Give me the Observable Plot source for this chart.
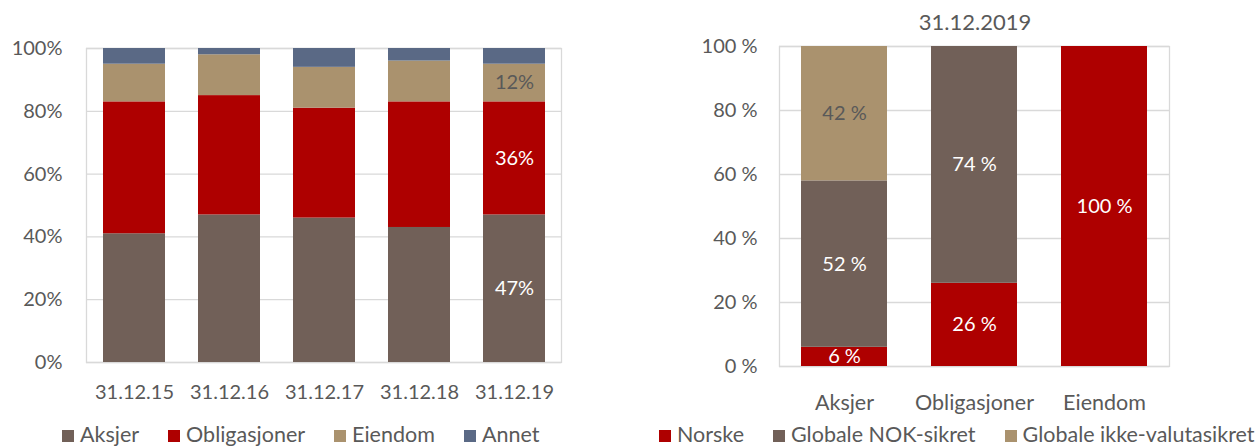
<!DOCTYPE html>
<html>
<head>
<meta charset="utf-8">
<script src="https://cdn.jsdelivr.net/npm/d3@7"></script>
<script src="https://cdn.jsdelivr.net/npm/@observablehq/plot@0.6"></script>
<style>
  html, body { margin: 0; padding: 0; background: #fff; }
  #root { position: relative; width: 1256px; height: 447px; overflow: hidden; font-family: Lato, "Open Sans", sans-serif; color: #595959; }
  .chart { position: absolute; top: 0; }
  .legend { position: absolute; top: 424px; display: flex; gap: 29px; font-size: 21.5px; line-height: 20px; white-space: nowrap; }
  .legend .item { display: flex; align-items: center; }
  .legend .sw { width: 12px; height: 12px; margin-right: 6px; margin-top: 4px; }
  #title { position: absolute; top: 9px; left: 875px; width: 200px; text-align: center; font-size: 22px; line-height: 26px; }
</style>
</head>
<body>
<div id="root">
  <div id="left" class="chart" style="left:0px"></div>
  <div id="right" class="chart" style="left:640px"></div>
  <div id="title">31.12.2019</div>
  <div id="legL" class="legend" style="left:62px"></div>
  <div id="legR" class="legend" style="left:659px"></div>
</div>
<script>
// ---- Left chart data (allocation by asset class over time) ----
const dates = ["31.12.15", "31.12.16", "31.12.17", "31.12.18", "31.12.19"];
const seriesL = ["Aksjer", "Obligasjoner", "Eiendom", "Annet"];
const aksjer = [41, 47, 46, 43, 47];
const obligasjoner = [42, 38, 35, 40, 36];
const eiendom = [12, 13, 13, 13, 12];
const annet = [5, 2, 6, 4, 5];
const labeledDate = "31.12.19";
const labeledSeriesL = ["Aksjer", "Obligasjoner", "Eiendom"];

// ---- Right chart data (31.12.2019 breakdown) ----
const categoriesR = ["Aksjer", "Obligasjoner", "Eiendom"];
const seriesR = ["Norske", "Globale NOK-sikret", "Globale ikke-valutasikret"];
const norske = [6, 26, 100];
const nokSikret = [52, 74, 0];
const ikkeSikret = [42, 0, 0];

const yTicks = [0, 20, 40, 60, 80, 100];

const colorsL = ["#716058", "#ae0000", "#aa926e", "#5a6985"];
const colorsR = ["#ae0000", "#716058", "#aa926e"];
const grid = "#d9d9d9";
const textGray = "#595959";

// Build tables
const valuesL = [aksjer, obligasjoner, eiendom, annet];
const rowsL = [];
seriesL.forEach((s, i) => dates.forEach((d, j) => {
  const v = valuesL[i][j];
  const lab = (d === labeledDate && labeledSeriesL.includes(s)) ? `${v}%` : null;
  rowsL.push({date: d, series: s, value: v,
    white: lab && s !== "Eiendom" ? lab : null,
    gray: lab && s === "Eiendom" ? lab : null});
}));

const valuesR = [norske, nokSikret, ikkeSikret];
const rowsR = [];
seriesR.forEach((s, i) => categoriesR.forEach((c, j) => {
  const v = valuesR[i][j];
  const lab = v > 0 ? `${v} %` : null;
  rowsR.push({cat: c, series: s, value: v,
    white: lab && s !== "Globale ikke-valutasikret" ? lab : null,
    gray: lab && s === "Globale ikke-valutasikret" ? lab : null});
}));

const style = {fontFamily: "Lato, 'Open Sans', sans-serif", fontSize: "20px", color: textGray, background: "white", overflow: "visible"};

const left = Plot.plot({
  width: 620, height: 410,
  marginLeft: 86, marginRight: 59, marginTop: 48, marginBottom: 48,
  style,
  x: {domain: dates, paddingInner: 0.35, paddingOuter: 0.175, label: null},
  y: {domain: [0, 100], label: null},
  color: {domain: seriesL, range: colorsL},
  marks: [
    Plot.ruleY(yTicks, {stroke: grid, strokeWidth: 1.3}),
    Plot.frame({stroke: grid, strokeWidth: 1.3}),
    Plot.barY(rowsL, Plot.stackY({x: "date", y: "value", z: "series", fill: "series"})),
    Plot.text(rowsL, Plot.stackY({x: "date", y: "value", z: "series", text: "white", fill: "white", fontSize: 20})),
    Plot.text(rowsL, Plot.stackY({x: "date", y: "value", z: "series", text: "gray", fill: textGray, fontSize: 20})),
    Plot.axisY({ticks: yTicks, tickFormat: d => `${d}%`, tickSize: 0, tickPadding: 24, label: null, fontSize: 20}),
    Plot.axisX({tickSize: 0, tickPadding: 22, label: null, fontSize: 20})
  ]
});
document.getElementById("left").appendChild(left);

const right = Plot.plot({
  width: 616, height: 410,
  marginLeft: 139, marginRight: 87, marginTop: 46, marginBottom: 44,
  style,
  x: {domain: categoriesR, paddingInner: 0.34, paddingOuter: 0.17, label: null},
  y: {domain: [0, 100], label: null},
  color: {domain: seriesR, range: colorsR},
  marks: [
    Plot.ruleY(yTicks, {stroke: grid, strokeWidth: 1.3}),
    Plot.frame({stroke: grid, strokeWidth: 1.3}),
    Plot.barY(rowsR, Plot.stackY({x: "cat", y: "value", z: "series", fill: "series"})),
    Plot.text(rowsR, Plot.stackY({x: "cat", y: "value", z: "series", text: "white", fill: "white", fontSize: 20})),
    Plot.text(rowsR, Plot.stackY({x: "cat", y: "value", z: "series", text: "gray", fill: textGray, fontSize: 20})),
    Plot.axisY({ticks: yTicks, tickFormat: d => `${d} %`, tickSize: 0, tickPadding: 22, label: null, fontSize: 20}),
    Plot.axisX({tickSize: 0, tickPadding: 28, label: null, fontSize: 21.5})
  ]
});
document.getElementById("right").appendChild(right);

function legend(el, names, colors) {
  names.forEach((n, i) => {
    const item = document.createElement("div");
    item.className = "item";
    const sw = document.createElement("span");
    sw.className = "sw";
    sw.style.background = colors[i];
    const t = document.createElement("span");
    t.textContent = n;
    item.appendChild(sw); item.appendChild(t);
    el.appendChild(item);
  });
}
legend(document.getElementById("legL"), seriesL, colorsL);
legend(document.getElementById("legR"), seriesR, colorsR);
</script>
</body>
</html>
